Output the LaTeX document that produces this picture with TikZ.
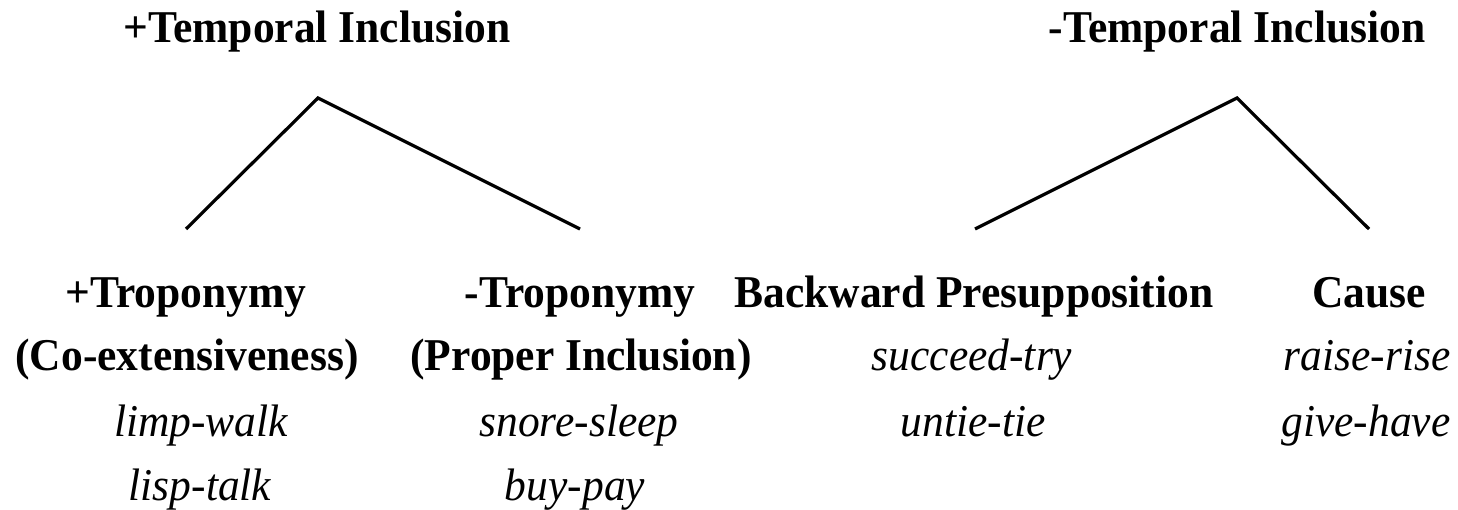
\documentclass[tikz,border=0pt]{standalone}
\usepackage{graphicx}
\usepackage{fontspec}
\setmainfont{Liberation Serif}
% slightly narrowed Times-like lettering
\newcommand{\narrow}[1]{\scalebox{0.956}[1]{#1}}
\begin{document}
\begin{tikzpicture}[x=1pt,y=-1pt,
  lbl/.style={anchor=base,inner sep=0pt,font=\fontsize{45.5}{54}\selectfont\bfseries},
  ex/.style={anchor=base,inner sep=0pt,font=\fontsize{45.5}{54}\selectfont\itshape},
  branch/.style={line width=3.2pt,line join=miter,line cap=butt}]
\useasboundingbox (0,0) rectangle (1458,510);

% headings
\node[lbl] (plusTI) at (317,43) {\narrow{+Temporal Inclusion}};
\node[lbl] (minusTI) at (1237,43) {\narrow{-Temporal Inclusion}};

% tree points
\coordinate (apexL) at (318,98);
\coordinate (legLL) at (186,229);
\coordinate (legLR) at (580,229);
\coordinate (apexR) at (1237,98);
\coordinate (legRL) at (975,229);
\coordinate (legRR) at (1369,229);

\draw[branch] (legLL) -- (apexL) -- (legLR);
\draw[branch] (legRL) -- (apexR) -- (legRR);

% left subtree leaves
\node[lbl] (tropo) at (186,308) {\narrow{+Troponymy}};
\node[lbl] (coext) at (187,370) {\narrow{(Co-extensiveness)}};
\node[ex] (limp) at (201,436) {\narrow{limp-walk}};
\node[ex] (lisp) at (200,500) {\narrow{lisp-talk}};

\node[lbl] (ntropo) at (580,308) {\narrow{-Troponymy}};
\node[lbl] (proper) at (581,370) {\narrow{(Proper Inclusion)}};
\node[ex] (snore) at (579,436) {\narrow{snore-sleep}};
\node[ex] (buy) at (575,500) {\narrow{buy-pay}};

% right subtree leaves
\node[lbl] (backp) at (974,308) {\narrow{Backward Presupposition}};
\node[ex] (succ) at (972,370) {\narrow{succeed-try}};
\node[ex] (untie) at (973,436) {\narrow{untie-tie}};

\node[lbl] (cause) at (1369,308) {\narrow{Cause}};
\node[ex] (raise) at (1367,370) {\narrow{raise-rise}};
\node[ex] (give) at (1366,436) {\narrow{give-have}};
\end{tikzpicture}
\end{document}
